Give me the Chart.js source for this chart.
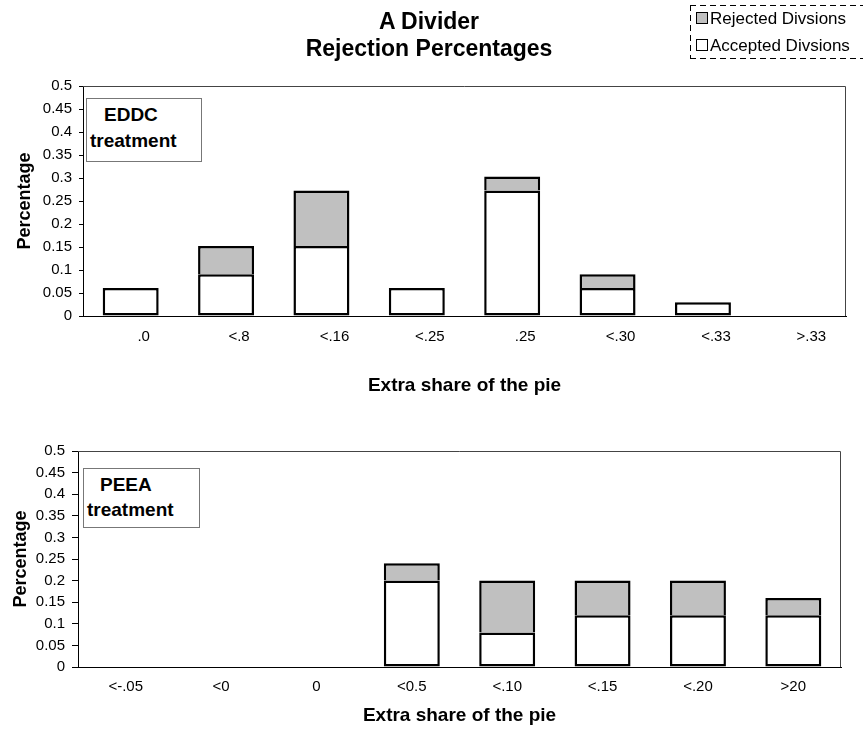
<!DOCTYPE html>
<html><head><meta charset="utf-8">
<script src="https://cdn.jsdelivr.net/npm/chart.js@4.4.1/dist/chart.umd.min.js"></script>
<style>
html,body{margin:0;padding:0;background:#fff;}
body{width:863px;height:731px;position:relative;overflow:hidden;font-family:"Liberation Sans",Arial,sans-serif;color:#000;}
canvas{position:absolute;left:0;}
#c1{top:0;}
#c2{top:400px;}
.ov{position:absolute;z-index:2;}
#title{left:179px;width:500px;top:8px;text-align:center;font-weight:bold;font-size:23px;line-height:27px;}
#legend{left:690px;top:5px;width:200px;height:54px;}
.dh{position:absolute;left:0;width:200px;height:1px;background:repeating-linear-gradient(to right,#000 0 6px,transparent 6px 10px);}
.dv{position:absolute;left:0;top:0;width:1px;height:54px;background:repeating-linear-gradient(to bottom,#000 0 6px,transparent 6px 10px);}
.li{position:absolute;left:6px;height:20px;font-size:17px;line-height:20px;white-space:nowrap;}
.sw{display:inline-block;box-sizing:border-box;width:12px;height:12px;border:1.5px solid #000;vertical-align:middle;margin-right:2px;position:relative;top:-2px;}
.ann{border:1px solid #777;background:#fff;font-weight:bold;font-size:19px;}
.ann span{position:absolute;white-space:nowrap;line-height:22px;}
</style></head>
<body>
<canvas id="c1" width="863" height="400"></canvas>
<canvas id="c2" width="863" height="331"></canvas>
<div id="title" class="ov">A Divider<br>Rejection Percentages</div>
<div id="legend" class="ov">
  <div class="dh" style="top:0;"></div>
  <div class="dh" style="top:53px;"></div>
  <div class="dv"></div>
  <div class="li" style="top:4px;"><span class="sw" style="background:#c0c0c0"></span>Rejected Divsions</div>
  <div class="li" style="top:31px;"><span class="sw" style="background:#fff"></span>Accepted Divsions</div>
</div>
<div class="ov ann" style="left:86px;top:98px;width:114px;height:62px;"><span style="left:17px;top:5px;">EDDC</span><span style="left:3px;top:31px;">treatment</span></div>
<div class="ov ann" style="left:83px;top:468px;width:115px;height:58px;"><span style="left:16px;top:5px;">PEEA</span><span style="left:3px;top:30px;">treatment</span></div>
<script>
// ---- data ----
const eddcCategories = ['.0', '<.8', '<.16', '<.25', '.25', '<.30', '<.33', '>.33'];
const eddcAccepted  = [0.061, 0.091, 0.152, 0.061, 0.273, 0.061, 0.030, 0];
const eddcRejected  = [0, 0.061, 0.121, 0, 0.030, 0.030, 0, 0];

const peeaCategories = ['<-.05', '<0', '0', '<0.5', '<.10', '<.15', '<.20', '>20'];
const peeaAccepted  = [0, 0, 0, 0.20, 0.08, 0.12, 0.12, 0.12];
const peeaRejected  = [0, 0, 0, 0.04, 0.12, 0.08, 0.08, 0.04];

const yTickValues = [0, 0.05, 0.1, 0.15, 0.2, 0.25, 0.3, 0.35, 0.4, 0.45, 0.5];
const seriesNames = ['Accepted Divsions', 'Rejected Divsions'];
const xTitle = 'Extra share of the pie';
const yTitle = 'Percentage';
// --------------

const FONT = '"Liberation Sans", Arial, sans-serif';

const frame = {
  id: 'frame',
  beforeDatasetsDraw(chart) {
    const a = chart.chartArea, c = chart.ctx;
    c.save();
    c.strokeStyle = '#444';
    c.lineWidth = 1;
    c.beginPath();
    c.moveTo(a.left, Math.round(a.top) + 0.5);
    c.lineTo(Math.round(a.right) - 0.5, Math.round(a.top) + 0.5);
    c.lineTo(Math.round(a.right) - 0.5, a.bottom);
    c.stroke();
    c.restore();
  }
};

function makeChart(id, cats, acc, rej, g) {
  return new Chart(document.getElementById(id), {
    type: 'bar',
    data: {
      labels: cats,
      datasets: [
        { label: seriesNames[0], data: acc, backgroundColor: '#ffffff', borderColor: '#000', borderWidth: 2.5, borderSkipped: false },
        { label: seriesNames[1], data: rej, backgroundColor: '#c0c0c0', borderColor: '#000', borderWidth: 2.5, borderSkipped: 'start' }
      ]
    },
    options: {
      responsive: false,
      animation: false,
      devicePixelRatio: 1,
      layout: { padding: { top: g.top, right: g.right, left: 0, bottom: 0 } },
      plugins: { legend: { display: false }, title: { display: false }, tooltip: { enabled: false } },
      datasets: { bar: { barPercentage: 0.587, categoryPercentage: 1 } },
      scales: {
        x: {
          stacked: true,
          grid: { display: true, drawOnChartArea: false, drawTicks: false },
          border: { display: true, color: '#000', width: 1 },
          ticks: { color: '#000', font: { family: FONT, size: 15 }, padding: g.xpad, labelOffset: g.lo, maxRotation: 0, autoSkip: false },
          title: { display: true, text: xTitle, color: '#000', font: { family: FONT, size: 19, weight: 'bold' }, padding: { top: 0, bottom: g.xtpad } },
          afterFit(s) { s.height = g.xh; }
        },
        y: {
          stacked: true,
          min: 0, max: 0.5,
          afterBuildTicks(s) { s.ticks = yTickValues.map(v => ({ value: v })); },
          grid: { display: true, drawOnChartArea: false, drawTicks: true, tickLength: g.tl, color: '#000' },
          border: { display: true, color: '#000', width: 1 },
          ticks: { color: '#000', font: { family: FONT, size: 15 }, padding: 7, callback: v => String(Math.round(v * 100) / 100) },
          title: { display: true, text: yTitle, color: '#000', font: { family: FONT, size: 18, weight: 'bold' }, padding: { top: g.ytpad, bottom: 0 } },
          afterFit(s) { s.width = g.yw; }
        }
      }
    },
    plugins: [frame]
  });
}

makeChart('c1', eddcCategories, eddcAccepted, eddcRejected,
  { top: 86, right: 17, xh: 84, yw: 83, xpad: 12, xtpad: 3, tl: 4, ytpad: 14, lo: 13 });
makeChart('c2', peeaCategories, peeaAccepted, peeaRejected,
  { top: 51, right: 22, xh: 64, yw: 78, xpad: 11, xtpad: 4, tl: 6, ytpad: 10, lo: 0 });
</script>
</body></html>
